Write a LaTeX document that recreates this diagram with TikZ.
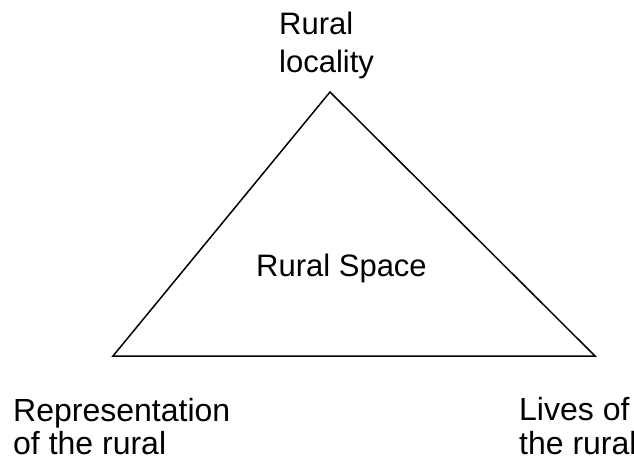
\documentclass[tikz,border=0pt]{standalone}
\usepackage{fontspec}
\setmainfont{Liberation Sans}
\begin{document}
\begin{tikzpicture}[x=1pt,y=1pt,
  lbl/.style={inner sep=0pt, anchor=base west, font=\fontsize{32}{37}\selectfont},
  lbls/.style={lbl, font=\fontsize{31}{37}\selectfont},
  tri/.style={draw=black, line width=1.5pt, line join=miter}]
\useasboundingbox (0,0) rectangle (634,459);
\coordinate (top) at (330,367);
\coordinate (bl) at (113,103);
\coordinate (br) at (595,103);
\draw[tri] (top) -- (bl) -- (br) -- cycle;
\node[lbls] (rl1) at (279,424) {Rural};
\node[lbls] (rl2) at (279,387) {locality};
\node[lbls] (rs) at (256,183) {Rural Space};
\node[lbl] (rp1) at (13,38) {Representation};
\node[lbl] (rp2) at (13,5) {of the rural};
\node[lbl] (lv1) at (519,39) {Lives of};
\node[lbl] (lv2) at (519,5) {the rural};
\end{tikzpicture}
\end{document}
